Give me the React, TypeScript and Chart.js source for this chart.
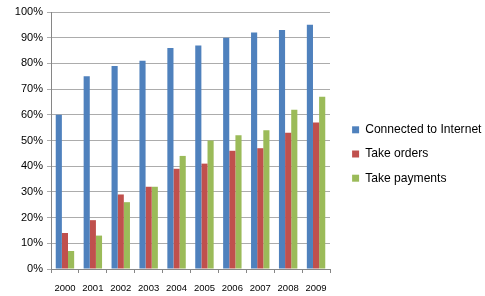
import React, { useEffect, useRef } from "react";
import { Chart, registerables } from "chart.js";

Chart.register(...registerables);

const categories = ["2000", "2001", "2002", "2003", "2004", "2005", "2006", "2007", "2008", "2009"];
const connected = [60, 75, 79, 81, 86, 87, 90, 92, 93, 95];
const takeOrders = [14, 19, 29, 32, 39, 41, 46, 47, 53, 57];
const takePayments = [7, 13, 26, 32, 44, 50, 52, 54, 62, 67];
const seriesNames = ["Connected to Internet", "Take orders", "Take payments"];
const yTickValues = [0, 10, 20, 30, 40, 50, 60, 70, 80, 90, 100];

const legendWidth = {
  id: "legendWidth",
  afterInit(chart: any) {
    const lg = chart.legend;
    if (!lg) return;
    const orig = lg.fit;
    lg.fit = function () {
      orig.call(this);
      this.width = 145;
    };
  },
};

export default function App() {
  const ref = useRef<HTMLCanvasElement | null>(null);
  useEffect(() => {
    document.body.style.margin = "0";
    const ctx = ref.current!;
    const chart = new Chart(ctx, {
      type: "bar",
      data: {
        labels: categories,
        datasets: [
          { label: seriesNames[0], data: connected, backgroundColor: "#4F81BD" },
          { label: seriesNames[1], data: takeOrders, backgroundColor: "#C0504D" },
          { label: seriesNames[2], data: takePayments, backgroundColor: "#9BBB59" },
        ],
      },
      plugins: [legendWidth],
      options: {
        animation: false,
        responsive: false,
        maintainAspectRatio: false,
        layout: { padding: { left: 8, top: 12, right: 0, bottom: 0 } },
        datasets: { bar: { barPercentage: 1, categoryPercentage: 0.66 } },
        plugins: {
          tooltip: { enabled: false },
          legend: {
            position: "right",
            labels: {
              boxWidth: 7,
              boxHeight: 7,
              padding: 12.1,
              color: "#000",
              font: { family: "Liberation Sans", size: 12.1 },
            },
          },
        },
        scales: {
          x: {
            grid: { display: true, drawOnChartArea: false, offset: true, tickLength: 4, color: "#868686" },
            border: { color: "#868686" },
            ticks: { color: "#000", padding: 10, font: { family: "Liberation Sans", size: 9.5 } },
            afterFit: (s: any) => { s.height = 27; },
          },
          y: {
            min: 0,
            max: 100,
            afterBuildTicks: (s: any) => { s.ticks = yTickValues.map((v) => ({ value: v })); },
            ticks: {
              color: "#000",
              padding: 4,
              font: { family: "Liberation Sans", size: 11 },
              callback: (v: any) => v + "%",
            },
            grid: { color: "#acacac", tickLength: 4 },
            border: { color: "#868686" },
            afterFit: (s: any) => { s.width = 43; },
          },
          yRight: {
            position: "right",
            min: 0,
            max: 100,
            ticks: { display: false },
            grid: { display: false },
            border: { display: false },
            afterFit: (s: any) => { s.width = 10; },
          },
        },
      },
    });
    return () => chart.destroy();
  }, []);
  return (
    <div style={{ width: 485, height: 296 }}>
      <canvas ref={ref} width={485} height={296} />
    </div>
  );
}
